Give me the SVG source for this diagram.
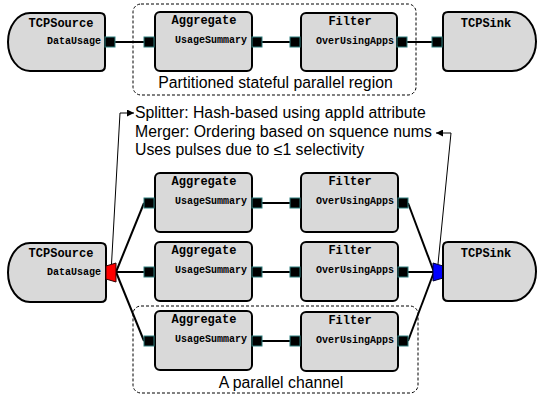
<svg xmlns="http://www.w3.org/2000/svg" width="538" height="399" viewBox="0 0 538 399">
<defs>
<style>
.box{fill:#d9d9d9;stroke:#000;stroke-width:2}
.port{fill:#000;stroke:#2e7f7f;stroke-width:1}
.conn{stroke:#000;stroke-width:2;fill:none}
.thin{stroke:#000;stroke-width:1;fill:none}
.region{fill:none;stroke:#000;stroke-width:1;stroke-dasharray:3,2}
.title{font-family:"Liberation Mono","Courier New",monospace;font-weight:bold;font-size:12px;text-anchor:middle;fill:#000}
.pname{font-family:"Liberation Mono","Courier New",monospace;font-weight:bold;font-size:10px;text-anchor:end;fill:#000}
.lbl{font-family:"Liberation Sans",Arial,sans-serif;font-size:15.8px;fill:#000}
</style>
<marker id="ah" viewBox="0 0 10 10" refX="10" refY="5" markerWidth="7" markerHeight="7" markerUnits="userSpaceOnUse" orient="auto">
<path d="M0,0 L10,5 L0,10 Z" fill="#000"/>
</marker>
</defs>

<!-- regions -->
<g id="region-top">
<rect class="region" x="133" y="4" width="283" height="91" rx="8"/>
<text class="lbl" x="275.5" y="88" text-anchor="middle">Partitioned stateful parallel region</text>
</g>
<g id="region-bottom">
<rect class="region" x="133" y="306" width="285" height="87" rx="8"/>
<text class="lbl" x="281" y="388" text-anchor="middle">A parallel channel</text>
</g>

<!-- connectors -->
<g id="connectors">
<line class="conn" x1="115" y1="42" x2="144" y2="42"/>
<line class="conn" x1="262" y1="42" x2="290" y2="42"/>
<line class="conn" x1="407" y1="42" x2="432" y2="42"/>

<line class="conn" x1="116" y1="272" x2="144" y2="203"/>
<line class="conn" x1="116" y1="272" x2="144" y2="272"/>
<line class="conn" x1="116" y1="272" x2="144" y2="341"/>

<line class="conn" x1="262" y1="203" x2="290" y2="203"/>
<line class="conn" x1="262" y1="272" x2="290" y2="272"/>
<line class="conn" x1="262" y1="341" x2="290" y2="341"/>

<line class="conn" x1="408" y1="203" x2="434" y2="272"/>
<line class="conn" x1="408" y1="272" x2="434" y2="272"/>
<line class="conn" x1="408" y1="341" x2="434" y2="272"/>

<polyline class="thin" points="111.5,264 120,113 134,113" marker-end="url(#ah)"/>
<polyline class="thin" points="438,264 451,133 436,133" marker-end="url(#ah)"/>
</g>

<!-- notes -->
<g id="notes">
<text class="lbl" x="135" y="118">Splitter: Hash-based using appId attribute</text>
<text class="lbl" x="135" y="137">Merger: Ordering based on squence nums</text>
<text class="lbl" x="135" y="155">Uses pulses due to ≤1 selectivity</text>
</g>

<!-- top row -->
<g id="src-top">
<path class="box" d="M30,13 H100 Q105,13 105,18 V66 Q105,71 100,71 H30 A22 29 0 0 1 30,13 Z"/>
<text class="title" x="61" y="27">TCPSource</text>
<text class="pname" x="101" y="44">DataUsage</text>
<rect class="port" x="105" y="37" width="10" height="10"/>
</g>
<g id="agg-top">
<rect class="box" x="155" y="12" width="97" height="59" rx="5"/>
<text class="title" x="204" y="24">Aggregate</text>
<text class="pname" x="247" y="43">UsageSummary</text>
<rect class="port" x="144" y="37" width="10" height="10"/>
<rect class="port" x="252" y="37" width="10" height="10"/>
</g>
<g id="flt-top">
<rect class="box" x="301" y="13" width="96" height="58" rx="5"/>
<text class="title" x="350" y="25">Filter</text>
<text class="pname" x="394" y="44">OverUsingApps</text>
<rect class="port" x="290" y="37" width="10" height="10"/>
<rect class="port" x="397" y="37" width="10" height="10"/>
</g>
<g id="sink-top">
<path class="box" d="M448,12 H512 A24 29.5 0 0 1 512,71 H448 Q443,71 443,66 V17 Q443,12 448,12 Z"/>
<text class="title" x="486" y="27">TCPSink</text>
<rect class="port" x="432" y="37" width="10" height="10"/>
</g>

<!-- bottom section -->
<g id="src-bottom">
<path class="box" d="M30,243 H101 Q106,243 106,248 V297 Q106,302 101,302 H30 A22 29.5 0 0 1 30,243 Z"/>
<text class="title" x="61" y="257">TCPSource</text>
<text class="pname" x="101" y="275">DataUsage</text>
</g>
<g id="splitter">
<polygon points="106,266 116,263 116,282 106,279" fill="#ff0000" stroke="#300" stroke-width="1"/>
</g>

<g id="agg-1">
<rect class="box" x="155" y="173" width="97" height="59" rx="5"/>
<text class="title" x="204" y="185">Aggregate</text>
<text class="pname" x="247" y="204">UsageSummary</text>
<rect class="port" x="144" y="198" width="10" height="10"/>
<rect class="port" x="252" y="198" width="10" height="10"/>
</g>
<g id="agg-2">
<rect class="box" x="155" y="242" width="97" height="59" rx="5"/>
<text class="title" x="204" y="254">Aggregate</text>
<text class="pname" x="247" y="273">UsageSummary</text>
<rect class="port" x="144" y="267" width="10" height="10"/>
<rect class="port" x="252" y="267" width="10" height="10"/>
</g>
<g id="agg-3">
<rect class="box" x="155" y="311" width="97" height="59" rx="5"/>
<text class="title" x="204" y="323">Aggregate</text>
<text class="pname" x="247" y="342">UsageSummary</text>
<rect class="port" x="144" y="336" width="10" height="10"/>
<rect class="port" x="252" y="336" width="10" height="10"/>
</g>

<g id="flt-1">
<rect class="box" x="301" y="173" width="97" height="59" rx="5"/>
<text class="title" x="350" y="185">Filter</text>
<text class="pname" x="394" y="204">OverUsingApps</text>
<rect class="port" x="290" y="198" width="10" height="10"/>
<rect class="port" x="398" y="198" width="10" height="10"/>
</g>
<g id="flt-2">
<rect class="box" x="301" y="242" width="97" height="59" rx="5"/>
<text class="title" x="350" y="254">Filter</text>
<text class="pname" x="394" y="273">OverUsingApps</text>
<rect class="port" x="290" y="267" width="10" height="10"/>
<rect class="port" x="398" y="267" width="10" height="10"/>
</g>
<g id="flt-3">
<rect class="box" x="301" y="312" width="97" height="59" rx="5"/>
<text class="title" x="350" y="324">Filter</text>
<text class="pname" x="394" y="343">OverUsingApps</text>
<rect class="port" x="290" y="336" width="10" height="10"/>
<rect class="port" x="398" y="336" width="10" height="10"/>
</g>

<g id="merger">
<polygon points="433,263 443,266 443,278 433,281" fill="#0000ff" stroke="#003" stroke-width="1"/>
</g>
<g id="sink-bottom">
<path class="box" d="M448,242 H512 A24 29.5 0 0 1 512,301 H448 Q443,301 443,296 V247 Q443,242 448,242 Z"/>
<text class="title" x="486" y="257">TCPSink</text>
</g>
</svg>
